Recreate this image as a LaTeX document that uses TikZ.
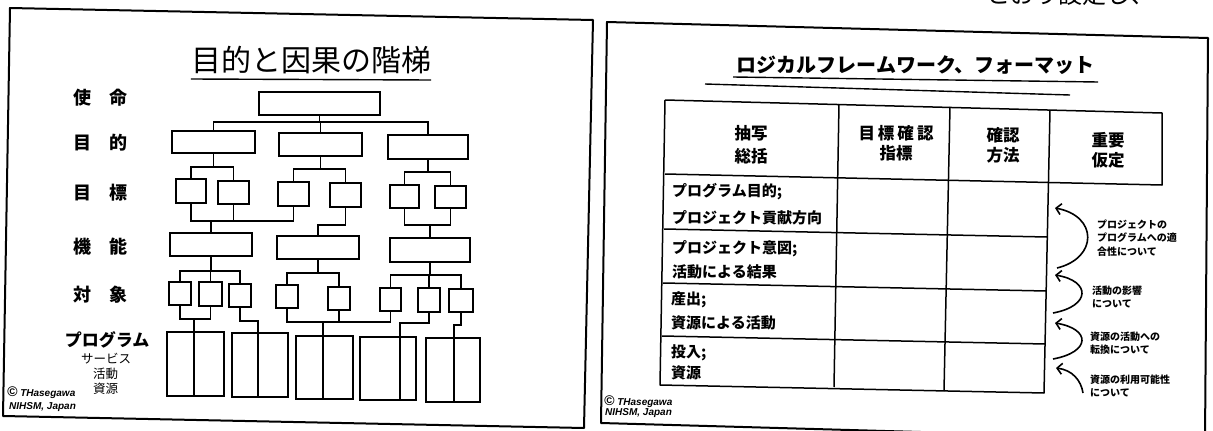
\documentclass[tikz,border=0pt]{standalone}
\usepackage{fontspec}
\newfontfamily\jp{Noto Sans CJK JP}[BoldFont={Noto Sans CJK JP Black}]
\newfontfamily\lat{Liberation Sans}
\usetikzlibrary{arrows.meta,calc}
\tikzset{
  ln/.style={line width=1.3pt},
  bx/.style={draw,line width=1.3pt,inner sep=0pt,outer sep=0pt},
  frame/.style={line width=2pt,line join=round},
  tl/.style={line width=1.5pt,line join=round},
  arr/.style={line width=1.6pt,-{Straight Barb[length=5pt,width=11pt]}},
  lbl/.style={font=\jp\bfseries\fontsize{18}{20}\selectfont,inner sep=0pt},
  sub/.style={font=\jp\fontsize{12.5}{14}\selectfont,inner sep=0pt},
  copy/.style={font=\lat\bfseries\itshape\fontsize{10}{11}\selectfont,inner sep=0pt,anchor=west},
  hd/.style={font=\jp\bfseries\fontsize{16.5}{18}\selectfont,inner sep=0pt},
  cell/.style={font=\jp\bfseries\fontsize{15}{17}\selectfont,inner sep=0pt,anchor=west},
  note/.style={font=\jp\bfseries\fontsize{10}{13.5}\selectfont,inner sep=0pt,anchor=west,align=left},
}
\newcommand\mybox[5]{\node[bx,minimum width=#4,minimum height=#5] (#1) at (#2,#3) {};}
\begin{document}
\begin{tikzpicture}[x=1pt,y=-1pt]
\useasboundingbox (0,0) rectangle (1213,431);
\begin{scope}
\clip (0,0) rectangle (1213,431);

% ===== left panel =====
\draw[frame] (10,8) -- (593,20) -- (584,428) -- (3,416) -- cycle;
\node[font=\jp\fontsize{30}{32}\selectfont,inner sep=0pt] (t1) at (311,60) {目的と因果の階梯};
\draw[line width=1.4pt] (t1.south west |- 0,79) coordinate (u1a) -- (t1.south east |- 0,80) coordinate (u1b);

\node[lbl] (l1) at (100,98) {使　命};
\node[lbl] (l2) at (100,143) {目　的};
\node[lbl] (l3) at (100,193) {目　標};
\node[lbl] (l4) at (100,247) {機　能};
\node[lbl] (l5) at (100,295) {対　象};
\node[lbl,font=\jp\bfseries\fontsize{17}{19}\selectfont] (l6) at (107,340) {プログラム};
\node[sub] (l7) at (106,359) {サービス};
\node[sub] (l8) at (105.5,374) {活動};
\node[sub] (l9) at (105.5,389) {資源};
\node[copy] (c1) at (7,393) {{\fontsize{14}{14}\selectfont\textcopyright}\ THasegawa};
\node[copy] (c2) at (9,407) {NIHSM, Japan};

% boxes
\mybox{M}{319.5}{103.5}{121}{23}
\mybox{P1}{213.5}{142}{83}{22}
\mybox{P2}{320.5}{144.5}{83}{23}
\mybox{P3}{428}{147}{80}{24}
\mybox{O1a}{191}{191}{30}{24}
\mybox{O1b}{233.5}{192.5}{31}{23}
\mybox{O2a}{293.5}{194}{31}{24}
\mybox{O2b}{345.5}{195}{31}{24}
\mybox{O3a}{404.5}{196.5}{29}{23}
\mybox{O3b}{450.5}{197}{31}{22}
\mybox{F1}{211}{244.5}{82}{23}
\mybox{F2}{318}{247.5}{82}{23}
\mybox{F3}{430}{250}{80}{24}
\mybox{T1a}{180}{293.5}{22}{23}
\mybox{T1b}{210.5}{294}{23}{24}
\mybox{T1c}{240}{295.5}{22}{23}
\mybox{T2a}{287}{296.5}{22}{23}
\mybox{T2b}{339}{298.5}{22}{23}
\mybox{T3a}{390.5}{299.5}{21}{23}
\mybox{T3b}{429}{300}{22}{24}
\mybox{T3c}{461}{300.5}{24}{23}
\mybox{G1}{195.5}{364}{57}{64}
\mybox{G2}{260}{365}{56}{64}
\mybox{G3}{324.5}{367.5}{57}{63}
\mybox{G4}{388}{368.5}{56}{63}
\mybox{G5}{453}{370}{54}{64}

% bus levels
\coordinate (y0) at (0,122);
\coordinate (y1) at (0,167);
\coordinate (y2) at (0,169);
\coordinate (y3) at (0,172);
\coordinate (y4) at (0,221);
\coordinate (y5) at (0,225);
\coordinate (y6) at (0,225);
\coordinate (y7) at (0,271);
\coordinate (y8) at (0,273);
\coordinate (y9) at (0,275);
\coordinate (ya) at (0,319);
\coordinate (yb) at (0,321);
\coordinate (yc) at (0,322);
\coordinate (yd) at (0,323);
\coordinate (ye) at (0,325);
\coordinate (d1) at (194,0);
\coordinate (d2) at (258,0);
\coordinate (d3) at (323,0);
\coordinate (d4) at (400,0);
\coordinate (d5) at (454,0);

% mission -> purposes
\draw[ln] (M.south) -- (M.south |- y0);
\draw[ln] (P1.north) |- (P3.north |- y0) -- (P3.north);
\draw[ln] (P2.north) -- (P2.north |- y0);
% purposes -> objectives
\draw[ln] (P1.south) -- (P1.south |- y1);
\draw[ln] (O1a.north) |- (O1b.north |- y1) -- (O1b.north);
\draw[ln] (P2.south) -- (P2.south |- y2);
\draw[ln] (O2a.north) |- (O2b.north |- y2) -- (O2b.north);
\draw[ln] (P3.south) -- (P3.south |- y3);
\draw[ln] (O3a.north) |- (O3b.north |- y3) -- (O3b.north);
% objectives -> functions
\draw[ln] (O1a.south) |- (O2a.south |- y4) -- (O2a.south);
\draw[ln] (O1b.south) -- (O1b.south |- y4);
\draw[ln] (F1.north) -- (F1.north |- y4);
\draw[ln] (O2b.south) |- (F2.north |- y5) -- (F2.north);
\draw[ln] (O3a.south) |- (O3b.south |- y6) -- (O3b.south);
\draw[ln] (F3.north) -- (F3.north |- y6);
% functions -> targets
\draw[ln] (F1.south) -- (F1.south |- y7);
\draw[ln] (T1a.north) |- (T1c.north |- y7) -- (T1c.north);
\draw[ln] (T1b.north) -- (T1b.north |- y7);
\draw[ln] (F2.south) -- (F2.south |- y8);
\draw[ln] (T2a.north) |- (T2b.north |- y8) -- (T2b.north);
\draw[ln] (F3.south) -- (F3.south |- y9);
\draw[ln] (T3a.north) |- (T3c.north |- y9) -- (T3c.north);
\draw[ln] (T3b.north) -- (T3b.north |- y9);
% targets -> programmes
\draw[ln] (T1a.south) |- (T1b.south |- ya) -- (T1b.south);
\draw[ln] (d1 |- ya) -- (d1 |- G1.south);
\draw[ln] (T1c.south) |- (d2 |- yb) -- (d2 |- G2.south);
\draw[ln] (T2a.south) |- (T3a.south |- yc) -- (T3a.south);
\draw[ln] (T2b.south) -- (T2b.south |- yc);
\draw[ln] (d3 |- yc) -- (d3 |- G3.south);
\draw[ln] (T3b.south) |- (d4 |- yd) -- (d4 |- G4.south);
\draw[ln] (T3c.south) |- (d5 |- ye) -- (d5 |- G5.south);

% ===== right panel =====
\draw[frame] (607,22) -- (1208,38) -- (1205,440) -- (601,423) -- cycle;
\node[font=\jp\bfseries\fontsize{20}{22}\selectfont,inner sep=0pt] (t2) at (915.5,65) {ロジカルフレームワーク、フォーマット};
\draw[line width=1.4pt] (733,77) coordinate (u2a) -- (1098,82) coordinate (u2b);
\draw[line width=1.4pt] (705,84) coordinate (u3a) -- (1070,95) coordinate (u3b);

% table
\draw[tl] (665,100) -- (1162,113) -- (1162,185) -- (665,174);
\draw[tl] (665,100) -- (660,385) -- (1044,393) -- (1050,110);
\draw[tl] (839,104) -- (834,387);
\draw[tl] (950,107) -- (944,391);
\draw[tl] (664,229) -- (1047,237);
\draw[tl] (663,283) -- (1046,291);
\draw[tl] (662,336) -- (1045,344);

\node[hd] (h1a) at (751,133) {抽写};
\node[hd] (h1b) at (751,156) {総括};
\node[hd] (h2a) at (896,133) {目\kern3pt 標\kern3pt 確\kern3pt 認};
\node[hd] (h2b) at (896,153) {指標};
\node[hd] (h3a) at (1003,135) {確認};
\node[hd] (h3b) at (1003,155) {方法};
\node[hd] (h4a) at (1108,140) {重要};
\node[hd] (h4b) at (1108,160) {仮定};

\node[cell] (r1a) at (672,192) {プログラム目的;};
\node[cell] (r1b) at (672,218) {プロジェクト貢献方向};
\node[cell] (r2a) at (672,249) {プロジェクト意図;};
\node[cell] (r2b) at (672,272) {活動による結果};
\node[cell] (r3a) at (671,300) {産出;};
\node[cell] (r3b) at (671,323) {資源による活動};
\node[cell] (r4a) at (671,353) {投入;};
\node[cell] (r4b) at (671,373) {資源};

% arrows
\coordinate (a1s) at (1057,268); \coordinate (a1e) at (1055,208);
\coordinate (a2s) at (1053,313); \coordinate (a2e) at (1055,275);
\coordinate (a3s) at (1053,359); \coordinate (a3e) at (1055,323);
\coordinate (a4s) at (1083,393); \coordinate (a4e) at (1056,368);
\draw[arr] (a1s) .. controls (1098,258) and (1098,216) .. (a1e);
\draw[arr] (a2s) .. controls (1091,306) and (1091,281) .. (a2e);
\draw[arr] (a3s) .. controls (1091,352) and (1091,329) .. (a3e);
\draw[arr] (a4s) .. controls (1081,380) and (1072,370) .. (a4e);

\node[note] (n1) at (1097,238) {プロジェクトの\\プログラムへの適\\合性について};
\node[note] (n2) at (1092,297) {活動の影響\\について};
\node[note] (n3) at (1090,343) {資源の活動への\\転換について};
\node[note] (n4) at (1090,386) {資源の利用可能性\\について};

\node[copy] (c3) at (604,402) {{\fontsize{14}{14}\selectfont\textcopyright}\ THasegawa};
\node[copy] (c4) at (605,413) {NIHSM, Japan};

% partial text at the top edge
\node[font=\jp\fontsize{24}{26}\selectfont,inner sep=0pt,anchor=base west] (top) at (986,4) {とおり設定し、};
\end{scope}
\end{tikzpicture}
\end{document}
